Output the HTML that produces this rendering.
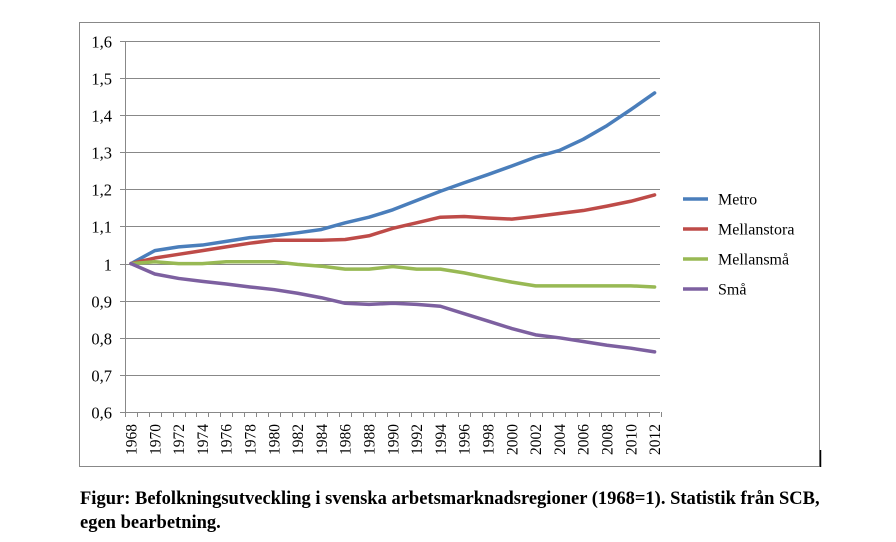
<!DOCTYPE html>
<html><head><meta charset="utf-8"><style>
body{margin:0;background:#fff;width:896px;height:542px;overflow:hidden}
svg{position:absolute;left:0;top:0}
.cap{position:absolute;left:80px;top:487px;font:bold 18.5px "Liberation Serif",serif;line-height:24px;color:#000;white-space:nowrap}
</style></head><body>
<svg id="s" width="896" height="542" xmlns="http://www.w3.org/2000/svg" font-family="Liberation Serif, serif">
<rect x="79.5" y="22.5" width="740" height="444" fill="none" stroke="#888"/>
<line x1="820.5" y1="450" x2="820.5" y2="467" stroke="#000" stroke-width="1.5"/>
<g id="g"></g>
</svg>
<div class="cap">Figur: Befolkningsutveckling i svenska arbetsmarknadsregioner (1968=1). Statistik från SCB,<br>egen bearbetning.</div>
<script>
const NS="http://www.w3.org/2000/svg",g=document.getElementById('g');
function el(t,a,txt){const e=document.createElementNS(NS,t);for(const k in a)e.setAttribute(k,a[k]);if(txt)e.textContent=txt;g.appendChild(e);return e;}
const X=y=>131+11.9*(y-1968), Y=v=>412-(v-0.6)*371;
for(let i=0;i<=10;i++){const v=0.6+i*0.1,y=Math.round(Y(v))+0.5;
 el('line',{x1:120,x2:660,y1:y,y2:y,stroke:'#888'});
 el('text',{x:112,y:y+6,'text-anchor':'end','font-size':16.5},(i==4?'1':v.toFixed(1).replace('.',',')));}
el('line',{x1:125.5,x2:125.5,y1:41,y2:412,stroke:'#888'});
for(let i=0;i<=45;i++){const x=Math.round(125+i*11.9)+0.5;el('line',{x1:x,x2:x,y1:412,y2:417,stroke:'#888'});}
for(let yr=1968;yr<=2012;yr+=2){const x=X(yr)+5.5;el('text',{x:x,y:455,'font-size':15.5,transform:`rotate(-90 ${x} 455)`},String(yr));}
const yrs=[];for(let y=1968;y<=2012;y+=2)yrs.push(y);
const D={
'#4a7ebb':[1,1.035,1.045,1.05,1.06,1.07,1.075,1.083,1.092,1.11,1.125,1.145,1.17,1.195,1.218,1.24,1.263,1.287,1.305,1.335,1.372,1.415,1.46],
'#be4b48':[1,1.015,1.025,1.035,1.045,1.055,1.063,1.063,1.063,1.065,1.075,1.095,1.11,1.125,1.127,1.123,1.12,1.127,1.135,1.143,1.155,1.168,1.185],
'#98b954':[1,1.005,1,1,1.005,1.005,1.005,0.998,0.993,0.985,0.985,0.992,0.985,0.985,0.975,0.962,0.95,0.94,0.94,0.94,0.94,0.94,0.937],
'#7d60a0':[1,0.972,0.96,0.952,0.945,0.937,0.93,0.92,0.908,0.893,0.89,0.893,0.89,0.885,0.865,0.845,0.825,0.808,0.8,0.79,0.78,0.772,0.762]};
const names=['Metro','Mellanstora','Mellansmå','Små'];let k=0;
for(const c in D){el('polyline',{points:D[c].map((v,i)=>X(yrs[i])+','+Y(v)).join(' '),fill:'none',stroke:c,'stroke-width':3.5,'stroke-linejoin':'round','stroke-linecap':'round'});
 const ly=199+30*k;el('line',{x1:683,x2:708,y1:ly,y2:ly,stroke:c,'stroke-width':3.5});
 el('text',{x:718,y:ly+5.5,'font-size':16},names[k]);k++;}
</script>
</body></html>
